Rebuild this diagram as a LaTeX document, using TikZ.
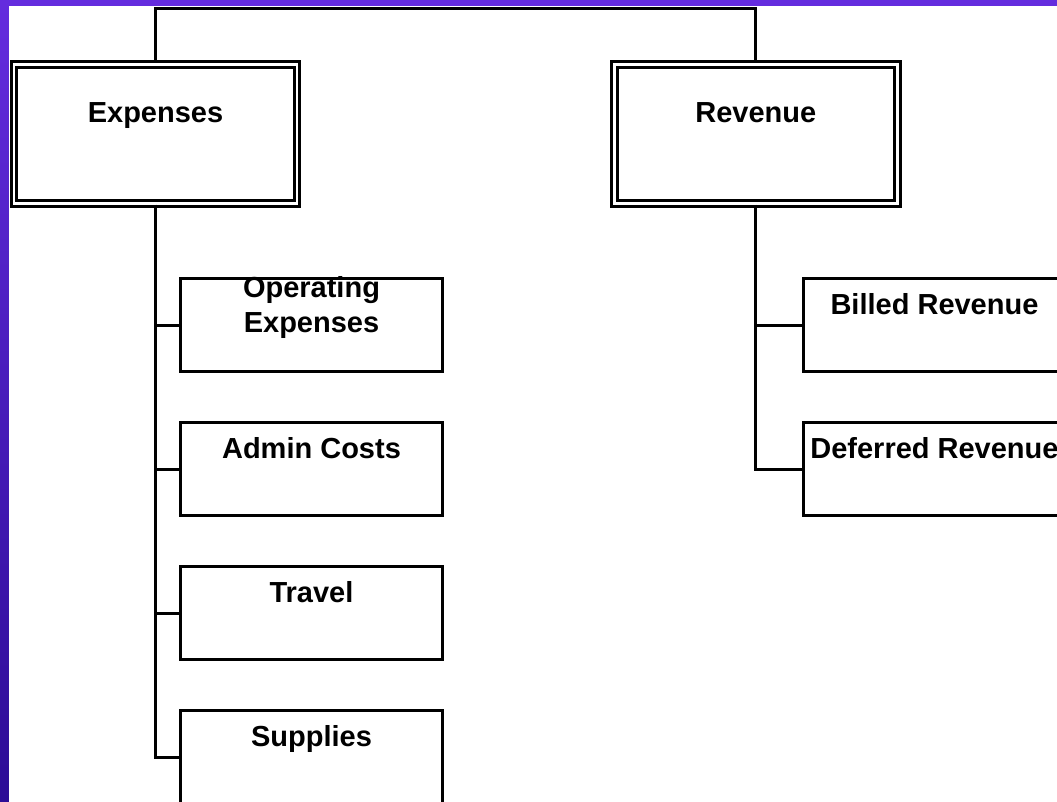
\documentclass[tikz,border=0pt]{standalone}
\usepackage{fontspec}
\setmainfont{Liberation Sans}
\definecolor{bandtop}{RGB}{100,44,222}
\definecolor{bandbot}{RGB}{44,12,150}
\tikzset{
    headbox/.style={draw, rectangle, line width=3pt, double, double distance=2.5pt,
        minimum width=283pt, minimum height=139pt, inner sep=0pt,
        text height=58.5pt, text depth=80.5pt, font=\bfseries\fontsize{29}{35}\selectfont},
    itembox/.style={draw, rectangle, line width=3pt, fill=white,
        minimum width=262pt, minimum height=93pt, inner sep=0pt,
        text height=36pt, text depth=57pt, align=center,
        font=\bfseries\fontsize{29}{35}\selectfont},
    link/.style={line width=3pt}
}
\begin{document}
\begin{tikzpicture}[x=1pt, y=-1pt]
    \useasboundingbox (0,0) rectangle (1057,802);
    \clip (0,0) rectangle (1057,802);
    % background
    \shade[top color=bandtop, bottom color=bandbot] (0,0) rectangle (1057,802);
    \fill[white] (9,6) rectangle (1057,802);

    \node[headbox] (exp) at (155.5,134) {Expenses};
    \node[headbox] (rev) at (755.75,134) {Revenue};

    \node[itembox, text height=53.5pt, text depth=39.5pt] (op) at (311.5,325) {Operating\\Expenses};
    \node[itembox] (adm) at (311.5,469) {Admin Costs};
    \node[itembox] (trv) at (311.5,613) {Travel};
    \node[itembox] (sup) at (311.5,757) {Supplies};

    \node[itembox] (bill) at (934.5,325) {Billed Revenue};
    \node[itembox] (def) at (934.5,469) {Deferred Revenue};

    \coordinate (top) at (455,9);

    \draw[link] (exp.north) |- (top) -| (rev.north);
    \draw[link] (exp.south) |- (op.west);
    \draw[link] (exp.south) |- (adm.west);
    \draw[link] (exp.south) |- (trv.west);
    \draw[link] (exp.south) |- (sup.west);
    \draw[link] (rev.south) |- (bill.west);
    \draw[link] (rev.south) |- (def.west);
\end{tikzpicture}
\end{document}
